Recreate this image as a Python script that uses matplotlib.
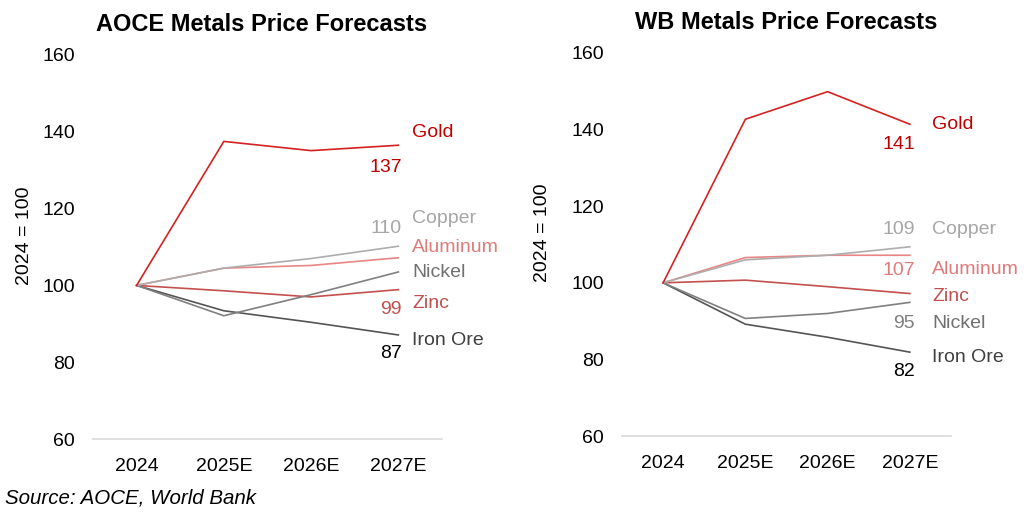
import matplotlib
matplotlib.use("Agg")
import matplotlib.pyplot as plt

plt.rcParams['font.family'] = ['Liberation Sans', 'DejaVu Sans']

# data (index, 2024 = 100)
years = ['2024', '2025E', '2026E', '2027E']
metals = ['Gold', 'Copper', 'Aluminum', 'Nickel', 'Zinc', 'Iron Ore']

aoce_gold = [100, 137.5, 135.1, 136.5]
aoce_copper = [100, 104.5, 107.0, 110.2]
aoce_aluminum = [100, 104.5, 105.2, 107.2]
aoce_nickel = [100, 92.1, 97.6, 103.5]
aoce_zinc = [100, 98.6, 97.0, 98.9]
aoce_iron_ore = [100, 93.4, 90.4, 87.1]

wb_gold = [100, 142.7, 149.9, 141.4]
wb_copper = [100, 106.0, 107.2, 109.4]
wb_aluminum = [100, 106.6, 107.2, 107.2]
wb_nickel = [100, 90.7, 92.0, 94.9]
wb_zinc = [100, 100.7, 99.0, 97.2]
wb_iron_ore = [100, 89.2, 85.8, 81.9]

# end value shown next to the line
aoce_shown = {'Gold': '137', 'Copper': '110', 'Zinc': '99', 'Iron Ore': '87'}
wb_shown = {'Gold': '141', 'Copper': '109', 'Aluminum': '107', 'Nickel': '95', 'Iron Ore': '82'}

# styling
line_colors = {'Gold': '#D42121', 'Copper': '#ADADAD', 'Aluminum': '#E88585',
               'Nickel': '#808080', 'Zinc': '#C4504E', 'Iron Ore': '#555555'}
name_colors = {'Gold': '#C00000', 'Copper': '#A6A6A6', 'Aluminum': '#E07B7B',
               'Nickel': '#707070', 'Zinc': '#C0504D', 'Iron Ore': '#404040'}
value_colors = {'Gold': '#C00000', 'Copper': '#A6A6A6', 'Aluminum': '#E07B7B',
                'Nickel': '#7F7F7F', 'Zinc': '#C0504D', 'Iron Ore': '#000000'}

# label positions (data coords): name left edge / value right edge
aoce_name_y = {'Gold': 139.8, 'Copper': 117.4, 'Aluminum': 109.8,
               'Nickel': 103.3, 'Zinc': 95.2, 'Iron Ore': 85.6}
aoce_value_y = {'Gold': 130.7, 'Copper': 114.8, 'Zinc': 93.7, 'Iron Ore': 82.2}
wb_name_y = {'Gold': 141.4, 'Copper': 113.8, 'Aluminum': 103.5,
             'Nickel': 89.4, 'Zinc': 96.5, 'Iron Ore': 80.5}
wb_value_y = {'Gold': 136.1, 'Copper': 113.8, 'Aluminum': 103.3,
              'Nickel': 89.4, 'Iron Ore': 76.8}

aoce = [aoce_gold, aoce_copper, aoce_aluminum, aoce_nickel, aoce_zinc, aoce_iron_ore]
wb = [wb_gold, wb_copper, wb_aluminum, wb_nickel, wb_zinc, wb_iron_ore]

fig = plt.figure(figsize=(10.24, 5.13), dpi=100)
ax1 = fig.add_axes([0.0908, 0.1442, 0.3408, 0.7486])
ax2 = fig.add_axes([0.6074, 0.1500, 0.3213, 0.7467])


def draw(ax, series, title, shown, name_y, value_y, name_x, value_x, title_x, ylab_x):
    x = range(len(years))
    # draw lower-priority lines first so gold sits on top
    for name, vals in reversed(list(zip(metals, series))):
        ax.plot(x, vals, color=line_colors[name], lw=1.2)
    for name in metals:
        ax.text(name_x, name_y[name], name, color=name_colors[name],
                fontsize=14, ha='left', va='center')
        if name in shown:
            ax.text(value_x, value_y[name], shown[name], color=value_colors[name],
                    fontsize=14, ha='right', va='center')
    ax.set_xlim(-0.5, 3.5)
    ax.set_ylim(60, 160)
    ax.set_yticks([60, 80, 100, 120, 140, 160])
    ax.set_xticks(list(x))
    ax.set_xticklabels(years)
    ax.tick_params(axis='both', length=0, labelsize=14)
    ax.tick_params(axis='y', pad=13)
    ax.tick_params(axis='x', pad=14)
    for s in ['top', 'right', 'left']:
        ax.spines[s].set_visible(False)
    ax.spines['bottom'].set_color('#D9D9D9')
    ax.spines['bottom'].set_linewidth(1.2)
    ax.set_ylabel('2024 = 100', fontsize=14)
    ax.yaxis.set_label_coords(ylab_x, 0.53)
    ax.set_title(title, fontsize=17, fontweight='bold', pad=17, x=title_x)


draw(ax1, aoce, 'AOCE Metals Price Forecasts', aoce_shown,
     aoce_name_y, aoce_value_y, 3.16, 3.04, 0.484, -0.172)
draw(ax2, wb, 'WB Metals Price Forecasts', wb_shown,
     wb_name_y, wb_value_y, 3.27, 3.06, 0.5, -0.216)

fig.text(0.005, 0.029, 'Source: AOCE, World Bank', fontsize=14.8,
         fontstyle='italic', ha='left', va='center')

fig.savefig('out.png', dpi=100)
